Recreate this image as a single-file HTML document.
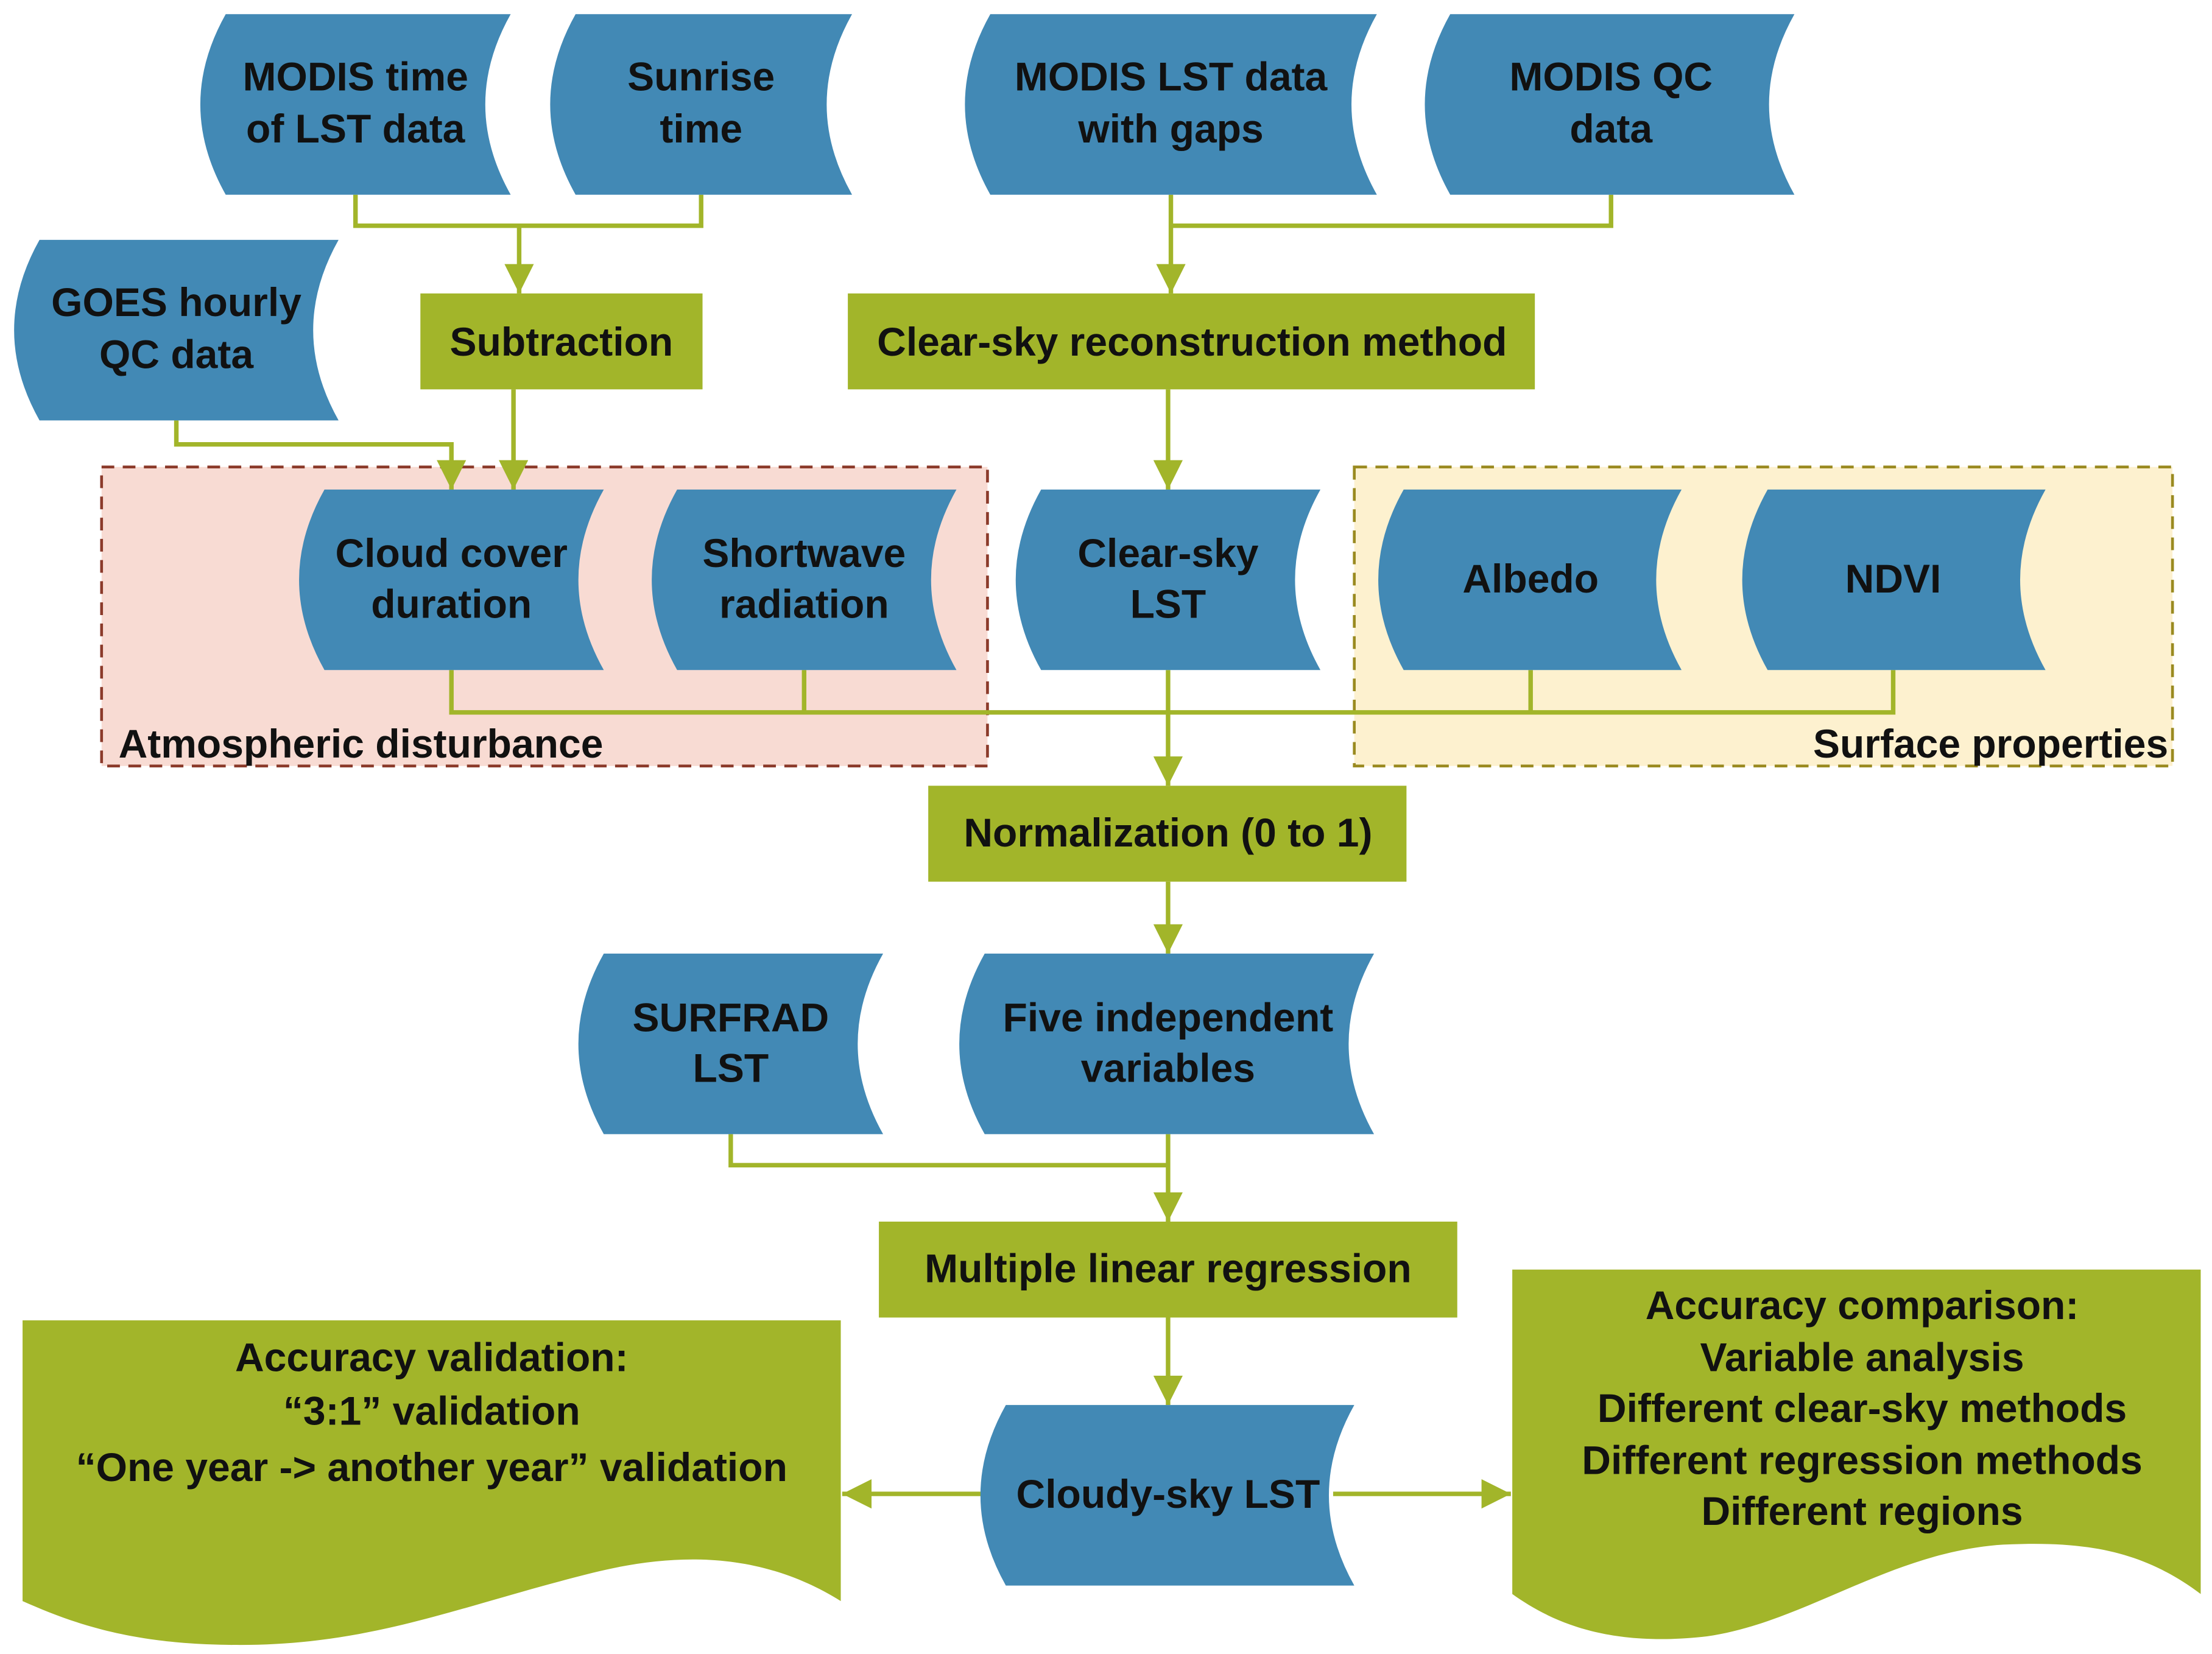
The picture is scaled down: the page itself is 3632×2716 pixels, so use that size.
<!DOCTYPE html>
<html><head><meta charset="utf-8"><style>html,body{margin:0;padding:0;background:#fff}svg{display:block}</style></head>
<body>
<svg width="3632" height="2716" viewBox="0 0 1568 1172.5" xmlns="http://www.w3.org/2000/svg" font-family="'Liberation Sans', sans-serif" font-weight="bold" font-size="28.5" text-anchor="middle">
<defs>
<marker id="a" viewBox="0 0 10 10" refX="10" refY="5" markerWidth="6.5" markerHeight="6.5" orient="auto" markerUnits="strokeWidth"><path d="M0,0 L10,5 L0,10 Z" fill="#a2b52a"/></marker>
</defs>
<rect x="72" y="331" width="628" height="212" fill="#f8dbd3" stroke="#8b3a2a" stroke-width="2" stroke-dasharray="9,6"/>
<rect x="960" y="331" width="580" height="212" fill="#fdf1cf" stroke="#9a8a20" stroke-width="2" stroke-dasharray="9,6"/>
<g fill="#111">
<text x="84" y="537" text-anchor="start">Atmospheric disturbance</text>
<text x="1537" y="537" text-anchor="end">Surface properties</text>
</g>
<g stroke="#a2b52a" stroke-width="3.2" fill="none">
<path d="M252,138 V160 H497 V138"/>
<path d="M368,160 V208" marker-end="url(#a)"/>
<path d="M1142,138 V160 H830"/>
<path d="M830,138 V208" marker-end="url(#a)"/>
<path d="M125,298 V315 H320 V347" marker-end="url(#a)"/>
<path d="M364,276 V347" marker-end="url(#a)"/>
<path d="M828,276 V347" marker-end="url(#a)"/>
<path d="M320,475 V505 H1342 V475 M570,475 V505 M1085,475 V505"/>
<path d="M828,475 V557" marker-end="url(#a)"/>
<path d="M828,625 V676" marker-end="url(#a)"/>
<path d="M518,804 V826 H828"/>
<path d="M828,804 V866" marker-end="url(#a)"/>
<path d="M828,934 V996" marker-end="url(#a)"/>
<path d="M713,1059 H597" marker-end="url(#a)"/>
<path d="M945,1059 H1071" marker-end="url(#a)"/>
</g>
<g fill="#4289b5">
<path d="M160,10 H362 Q326,74 362,138 H160 Q124,74 160,10Z"/>
<path d="M408,10 H604 Q568,74 604,138 H408 Q372,74 408,10Z"/>
<path d="M702,10 H976 Q940,74 976,138 H702 Q666,74 702,10Z"/>
<path d="M1028,10 H1272 Q1236,74 1272,138 H1028 Q992,74 1028,10Z"/>
<path d="M28,170 H240 Q204,234 240,298 H28 Q-8,234 28,170Z"/>
<path d="M230,347 H428 Q392,411 428,475 H230 Q194,411 230,347Z"/>
<path d="M480,347 H678 Q642,411 678,475 H480 Q444,411 480,347Z"/>
<path d="M738,347 H936 Q900,411 936,475 H738 Q702,411 738,347Z"/>
<path d="M995,347 H1192 Q1156,411 1192,475 H995 Q959,411 995,347Z"/>
<path d="M1253,347 H1450 Q1414,411 1450,475 H1253 Q1217,411 1253,347Z"/>
<path d="M428,676 H626 Q590,740 626,804 H428 Q392,740 428,676Z"/>
<path d="M698,676 H974 Q938,740 974,804 H698 Q662,740 698,676Z"/>
<path d="M713,996 H960 Q924,1060 960,1124 H713 Q677,1060 713,996Z"/>
</g>
<g fill="#a2b52a">
<rect x="298" y="208" width="200" height="68"/>
<rect x="601" y="208" width="487" height="68"/>
<rect x="658" y="557" width="339" height="68"/>
<rect x="623" y="866" width="410" height="68"/>
<path d="M16,936 H596 V1135 C540,1100 480,1100 420,1115 C320,1140 260,1168 160,1166 C90,1165 50,1150 16,1135 Z"/>
<path d="M1072,900 H1560 V1130 C1520,1100 1480,1092 1420,1095 C1340,1100 1280,1150 1210,1160 C1140,1168 1100,1150 1072,1130 Z"/>
</g>
<g fill="#111">
<text x="252" y="64">MODIS time</text><text x="252" y="101">of LST data</text>
<text x="497" y="64">Sunrise</text><text x="497" y="101">time</text>
<text x="830" y="64">MODIS LST data</text><text x="830" y="101">with gaps</text>
<text x="1142" y="64">MODIS QC</text><text x="1142" y="101">data</text>
<text x="125" y="224">GOES hourly</text><text x="125" y="261">QC data</text>
<text x="398" y="252">Subtraction</text>
<text x="845" y="252">Clear-sky reconstruction method</text>
<text x="320" y="402">Cloud cover</text><text x="320" y="438">duration</text>
<text x="570" y="402">Shortwave</text><text x="570" y="438">radiation</text>
<text x="828" y="402">Clear-sky</text><text x="828" y="438">LST</text>
<text x="1085" y="420">Albedo</text>
<text x="1342" y="420">NDVI</text>
<text x="828" y="600">Normalization (0 to 1)</text>
<text x="518" y="731">SURFRAD</text><text x="518" y="767">LST</text>
<text x="828" y="731">Five independent</text><text x="828" y="767">variables</text>
<text x="828" y="909">Multiple linear regression</text>
<text x="828" y="1069">Cloudy-sky LST</text>
<text x="306" y="972">Accuracy validation:</text>
<text x="306" y="1010">“3:1” validation</text>
<text x="306" y="1050">“One year -&gt; another year” validation</text>
<text x="1320" y="935">Accuracy comparison:</text>
<text x="1320" y="972">Variable analysis</text>
<text x="1320" y="1008">Different clear-sky methods</text>
<text x="1320" y="1045">Different regression methods</text>
<text x="1320" y="1081">Different regions</text>
</g>
</svg>
</body></html>
